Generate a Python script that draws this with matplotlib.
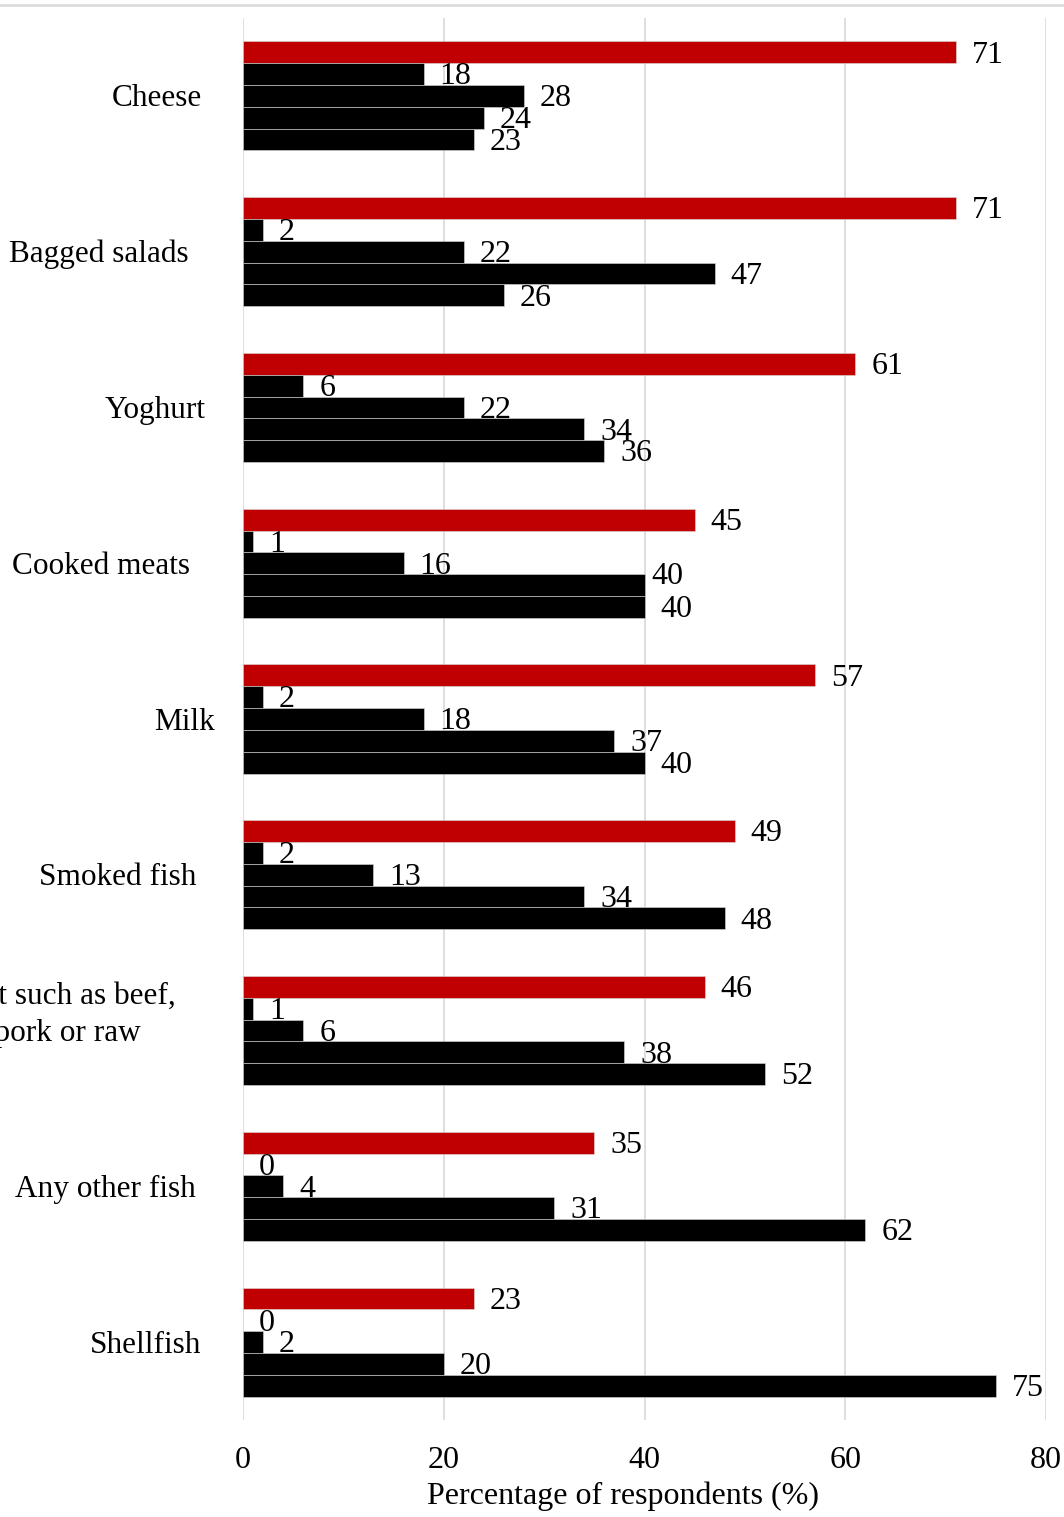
import numpy as np
import matplotlib
matplotlib.use('Agg')
import matplotlib.pyplot as plt
from matplotlib.transforms import blended_transform_factory, ScaledTranslation
from matplotlib.lines import Line2D

plt.rcParams['font.family'] = ['Liberation Serif', 'DejaVu Serif']

categories = ['Cheese', 'Bagged salads', 'Yoghurt', 'Cooked meats', 'Milk',
              'Smoked fish', 'Raw meat such as beef,\nlamb, pork or raw',
              'Any other fish', 'Shellfish']
s1 = [71, 71, 61, 45, 57, 49, 46, 35, 23]
s2 = [18, 2, 6, 1, 2, 2, 1, 0, 0]
s3 = [28, 22, 22, 16, 18, 13, 6, 4, 2]
s4 = [24, 47, 34, 40, 37, 34, 38, 31, 20]
s5 = [23, 26, 36, 40, 40, 48, 52, 62, 75]
series = [s1, s2, s3, s4, s5]
colors = ['#C00000', '#000000', '#000000', '#000000', '#000000']

# label right edges (px) and small vertical nudges
label_right = [202, 189, 206, 190, 215, 196, 176, 196, 201]
label_dy = [0, 0, 0, 0, 0, 0, -0.12, 0, 0]
# (group, series) -> (dx, dy) in points for labels moved to avoid overlap
label_nudge = {(3, 3): (-6.5, 8.5)}

W, H = 1064, 1517
FS = 23
fig = plt.figure(figsize=(W / 100, H / 100), dpi=100)
ax = fig.add_axes([243 / W, 1 - 1420 / H, (1046 - 243) / W, (1420 - 18) / H])

y = np.arange(len(categories))
bh = 0.14
for j, vals in enumerate(series):
    pos = y - 0.35 + bh / 2 + bh * j
    ax.barh(pos, vals, height=bh, color=colors[j], edgecolor='#d9d9d9',
            linewidth=0.4, zorder=3)
    for i, v in enumerate(vals):
        dx, dy = label_nudge.get((i, j), (0, 0))
        ax.annotate(str(v), xy=(v, pos[i]), xytext=(11.5 + dx, -2 + dy),
                    textcoords='offset points', ha='left', va='center',
                    fontsize=FS, color='black', zorder=4)

ax.set_xlim(0, 80)
ax.set_ylim(8.5, -0.5)
ax.set_xticks([0, 20, 40, 60, 80])
ax.set_yticks([])
ax.tick_params(axis='x', length=0, labelsize=FS, pad=19)
ax.grid(axis='x', color='#d9d9d9', linewidth=1.2, zorder=0)
for s in ax.spines.values():
    s.set_visible(False)

ax.set_xlabel('Percentage of respondents (%)', fontsize=FS)
ax.xaxis.set_label_coords((623 - 243) / (1046 - 243), -0.044)

tr = blended_transform_factory(fig.transFigure, ax.transData) + \
    ScaledTranslation(0, -3 / 100, fig.dpi_scale_trans)
for i, cat in enumerate(categories):
    fig.text(label_right[i] / W, i + label_dy[i], cat, transform=tr, ha='right',
             va='center', multialignment='center', fontsize=22.5,
             linespacing=1.38)

fig.add_artist(Line2D([0, 1], [1 - 5 / H, 1 - 5 / H], color='#d9d9d9',
                      linewidth=1.8, transform=fig.transFigure))

fig.savefig('out.png', dpi=100)
